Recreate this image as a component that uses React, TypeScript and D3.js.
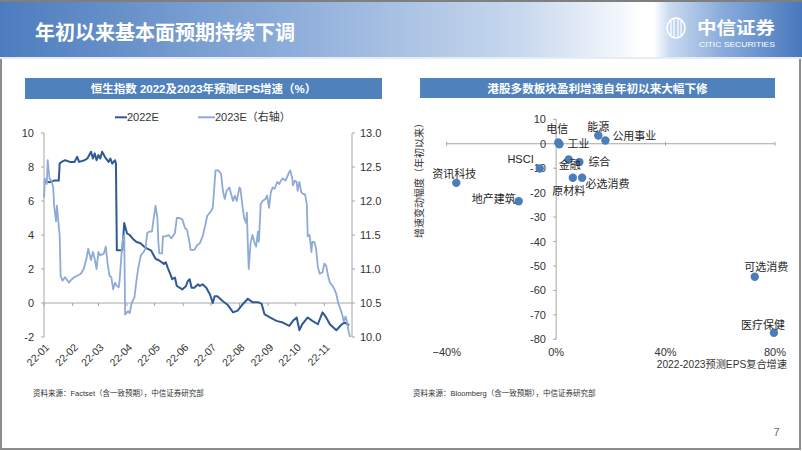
import React from "react";
import * as d3 from "d3";

const FONT = "'Liberation Sans', Arial, 'Noto Sans CJK SC', sans-serif";

const pageTitle = "年初以来基本面预期持续下调";
const leftTitle = "恒生指数 2022及2023年预测EPS增速（%）";
const rightTitle = "港股多数板块盈利增速自年初以来大幅下修";
const seriesNames = ["2022E", "2023E（右轴）"];
const leftSource = "资料来源：Factset（含一致预期），中信证券研究部";
const rightSource = "资料来源：Bloomberg（含一致预期），中信证券研究部";
const xAxisTitle = "2022-2023预测EPS复合增速";
const yAxisTitle = "增速变动幅度（年初以来）";
const pageNumber = "7";

const leftTicks = [-2, 0, 2, 4, 6, 8, 10];
const rightTicks = [10.0, 10.5, 11.0, 11.5, 12.0, 12.5, 13.0];

const dates2022E = [
  "01-01","01-07","01-12","01-17","01-18","01-20","01-24","01-29","02-03","02-06",
  "02-08","02-14","02-17","02-21","02-23","02-25","02-27","03-01","03-03","03-05",
  "03-08","03-12","03-14","03-16","03-19","03-20","03-21","03-25","03-27","03-29",
  "04-01","04-04","04-07","04-11","04-16","04-20","04-23","04-27","04-29","05-02",
  "05-06","05-11","05-13","05-15","05-18","05-20","05-23","05-25","05-28","05-31",
  "06-04","06-06","06-08","06-10","06-13","06-17","06-19","06-22","06-26","06-30",
  "07-03","07-05","07-08","07-14","07-19","07-25","07-30","08-04","08-10","08-15",
  "08-21","08-25","08-28","09-03","09-10","09-17","09-24","09-28","10-02","10-05",
  "10-08","10-14","10-19","10-25","10-30","11-03","11-07","11-14","11-20","11-23","11-28"
];
const eps2022E = [
  7.2,7.1,7.2,7.2,8.2,8.3,8.4,8.3,8.3,8.6,
  8.3,8.4,8.5,8.9,8.5,8.8,8.4,8.7,8.5,8.9,
  8.6,8.3,8.5,8.2,8.4,8.2,3.1,3.1,3.1,4.7,
  4.1,4.0,3.8,3.6,3.5,3.3,3.2,3.1,2.9,2.6,
  2.5,2.3,2.4,2.1,1.7,1.4,1.5,1.0,0.9,0.8,
  1.0,1.3,1.4,0.9,0.9,1.1,1.0,1.1,0.9,0.5,
  0.0,0.4,0.4,0.1,-0.1,-0.55,-0.45,-0.1,0.25,0.05,
  0.05,-0.05,-0.65,-0.85,-1.05,-1.15,-1.35,-1.05,-0.85,-1.6,
  -1.25,-0.85,-1.05,-1.25,-0.55,-0.85,-1.25,-1.6,-1.25,-1.15,-1.3
];

const dates2023E = [
  "01-01","01-02","01-04","01-05","01-07","01-09","01-11","01-12","01-14","01-15",
  "01-17","01-18","01-19","01-21","01-24","01-28","01-31","02-03","02-06","02-10",
  "02-13","02-16","02-18","02-21","02-23","02-25","02-27","03-01","03-03","03-07",
  "03-09","03-11","03-13","03-15","03-17","03-19","03-21","03-23","03-24","03-27",
  "03-29","03-30","04-02","04-04","04-06","04-09","04-11","04-13","04-16","04-19",
  "04-21","04-23","04-25","04-28","04-30","05-02","05-04","05-05","05-06","05-09",
  "05-10","05-13","05-16","05-19","05-23","05-25","05-28","05-31","06-03","06-05",
  "06-07","06-09","06-13","06-16","06-19","06-22","06-25","06-27","07-01","07-03",
  "07-04","07-06","07-09","07-12","07-14","07-16","07-18","07-21","07-23","07-25",
  "07-27","07-29","08-01","08-02","08-04","08-06","08-08","08-09","08-10","08-11",
  "08-13","08-15","08-17","08-19","08-21","08-22","08-24","08-26","08-29","08-31",
  "09-02","09-04","09-06","09-08","09-11","09-13","09-15","09-17","09-20","09-23",
  "09-25","09-27","09-28","09-30","10-02","10-03","10-05","10-07","10-09","10-11",
  "10-13","10-14","10-16","10-18","10-19","10-21","10-23","10-25","10-27","10-30",
  "11-01","11-03","11-05","11-07","11-10","11-12","11-14","11-16","11-18","11-21",
  "11-22","11-24","11-26","11-27","11-29"
];
const eps2023E = [
  12.05,12.33,12.25,12.6,12.33,12.3,12.2,11.93,11.7,11.93,
  11.63,11.5,10.9,10.83,10.88,10.8,10.85,10.88,10.9,10.93,
  11.0,11.15,11.3,11.13,11.25,11.15,11.0,11.25,11.2,11.23,
  11.33,11.08,10.9,10.88,10.7,10.8,10.75,10.73,10.83,11.4,
  11.5,10.33,10.38,10.35,10.5,10.58,10.8,11.0,11.2,11.25,
  11.3,11.53,11.55,11.55,11.75,11.93,11.75,11.4,11.23,11.23,
  11.48,11.48,11.5,11.45,11.53,11.75,11.75,11.73,11.6,11.58,
  11.45,11.28,11.28,11.35,11.38,11.48,11.65,11.78,11.85,11.9,
  12.08,12.45,12.45,12.4,12.15,12.03,12.15,12.2,12.1,12.0,
  12.08,12.0,12.2,12.18,11.95,11.75,11.68,11.83,11.38,11.0,
  11.38,11.5,11.4,11.33,11.55,11.4,11.95,12.0,12.03,12.08,
  11.9,12.13,12.2,12.18,12.28,12.25,12.3,12.33,12.3,12.4,
  12.45,12.35,12.23,12.3,12.28,12.15,12.28,12.13,12.1,12.1,
  11.95,11.48,11.5,11.25,11.4,11.4,11.3,11.03,10.93,10.95,
  11.08,11.05,10.9,10.8,10.75,10.7,10.63,10.5,10.43,10.3,
  10.23,10.3,10.2,10.1,10.0
];

const sectors = ["电信","工业","能源","公用事业","HSCI","综合","金融","原材料","必选消费","资讯科技","地产建筑","可选消费","医疗保健"];
const epsCagr = [0.008, 0.012, 0.154, 0.18, -0.06, 0.085, 0.046, 0.061, 0.095, -0.365, -0.137, 0.726, 0.796];
const growthChange = [0.5, -0.2, 3.4, 1.3, -10.1, -7.5, -6.4, -13.9, -13.9, -16.0, -23.5, -54.4, -77.3];

const xTicksPct = [-0.4, 0, 0.4, 0.8];
const yTicksChg = [10, 0, -10, -20, -30, -40, -50, -60, -70, -80];

// label placement (layout, not data)
const labelPlace: Record<string, { dx: number; dy: number; anchor: string }> = {
  "电信": { dx: -1, dy: -10, anchor: "middle" },
  "工业": { dx: 8, dy: 4, anchor: "start" },
  "能源": { dx: 0, dy: -4, anchor: "middle" },
  "公用事业": { dx: 7, dy: -1, anchor: "start" },
  "HSCI": { dx: -6, dy: -5, anchor: "end" },
  "综合": { dx: 9, dy: 4, anchor: "start" },
  "金融": { dx: 1, dy: 9.5, anchor: "middle" },
  "原材料": { dx: -4, dy: 17, anchor: "middle" },
  "必选消费": { dx: 3.5, dy: 10, anchor: "start" },
  "资讯科技": { dx: -2, dy: -5, anchor: "middle" },
  "地产建筑": { dx: -3, dy: 2, anchor: "end" },
  "可选消费": { dx: 11.5, dy: -6, anchor: "middle" },
  "医疗保健": { dx: -11, dy: -4, anchor: "middle" },
};

const parse = d3.timeParse("%Y-%m-%d");
const toDate = (s: string) => parse("2022-" + s) as Date;

export default function App() {
  // left chart scales
  const xT = d3.scaleTime().domain([toDate("01-01"), toDate("12-01")]).range([44, 352]);
  const yL = d3.scaleLinear().domain([-2, 10]).range([337, 133]);
  const yR = d3.scaleLinear().domain([10, 13]).range([337, 133]);
  const monthTicks = d3.timeMonth.range(toDate("01-01"), toDate("12-01"));
  const fmtMonth = d3.timeFormat("%y-%m");

  const d22 = dates2022E.map((d, i) => [toDate(d), eps2022E[i]] as [Date, number]);
  const d23 = dates2023E.map((d, i) => [toDate(d), eps2023E[i]] as [Date, number]);
  const line22 = d3.line<[Date, number]>().x((d) => xT(d[0])).y((d) => yL(d[1]));
  const line23 = d3.line<[Date, number]>().x((d) => xT(d[0])).y((d) => yR(d[1]));

  // right chart scales
  const xS = d3.scaleLinear().domain([-0.4, 0.8]).range([446.7, 775]);
  const yS = d3.scaleLinear().domain([-80, 10]).range([339.3, 119.3]);
  const pctFmt = d3.format(".0%");

  const dark = "#2f5a98";
  const light = "#8eaad6";
  const axis = "#a6a6a6";
  const bar = "#4f81bd";

  return (
    <svg width={802} height={451} style={{ position: "absolute", left: 0, top: 0, background: "#fff" }} fontFamily={FONT}>
      <defs>
        <linearGradient id="hdr" x1="0" x2="1" y1="0" y2="0">
          <stop offset="0" stopColor="#4d7cbe" />
          <stop offset="0.38" stopColor="#91b0db" />
          <stop offset="0.65" stopColor="#c8d8ee" />
          <stop offset="0.775" stopColor="#f3f7fc" />
          <stop offset="0.80" stopColor="#ffffff" />
          <stop offset="0.815" stopColor="#ffffff" />
          <stop offset="0.835" stopColor="#c9daf0" />
          <stop offset="0.9" stopColor="#8aacdb" />
          <stop offset="1" stopColor="#4878bd" />
        </linearGradient>
      </defs>
      <rect x={0} y={0} width={802} height={451} fill="#fff" />
      {/* header */}
      <rect x={0} y={0} width={802} height={58} fill="url(#hdr)" />
      <rect x={0} y={0} width={802} height={2} fill="#7f7f7f" />
      <rect x={0} y={57} width={802} height={2} fill="#e6ecf4" />
      <text x={35} y={40} fill="#fff" fontSize={20} fontWeight="bold">{pageTitle}</text>
      {/* logo */}
      <g stroke="#fff" fill="none" strokeWidth={1.6}>
        <ellipse cx={676} cy={28} rx={9} ry={10} />
        <path d="M671,21 L671,35 M674,19 L674,37 M678,19 L678,37 M681,21 L681,35" strokeWidth={1.2} />
      </g>
      <text x={697} y={34} fill="#fff" fontSize={17} fontWeight="bold" textLength={78} lengthAdjust="spacingAndGlyphs">中信证券</text>
      <text x={699} y={46.5} fill="#fff" fontSize={7.5} textLength={76} lengthAdjust="spacingAndGlyphs">CITIC SECURITIES</text>

      {/* page border */}
      <g stroke="#8c8c8c" strokeWidth={2} fill="none">
        <line x1={1} y1={59} x2={1} y2={449} />
        <line x1={800} y1={59} x2={800} y2={449} />
        <line x1={0} y1={449} x2={801} y2={449} />
      </g>

      {/* title bars */}
      <rect x={25} y={78} width={357} height={21} fill={bar} />
      <text x={203.5} y={93} textAnchor="middle" fill="#fff" fontSize={11.5} fontWeight="bold">{leftTitle}</text>
      <rect x={420} y={78} width={355} height={20} fill={bar} />
      <text x={597.5} y={92.5} textAnchor="middle" fill="#fff" fontSize={11.6} fontWeight="bold">{rightTitle}</text>

      {/* left legend */}
      <line x1={115} x2={127} y1={117.3} y2={117.3} stroke={dark} strokeWidth={2} />
      <text x={127} y={121} fontSize={11} fill="#333">{seriesNames[0]}</text>
      <line x1={198} x2={215} y1={117.3} y2={117.3} stroke={light} strokeWidth={2} />
      <text x={215} y={121} fontSize={11} fill="#333">{seriesNames[1]}</text>

      {/* left axes */}
      <line x1={44} x2={44} y1={yL(10)} y2={yL(-2)} stroke={axis} />
      {leftTicks.map((t) => (
        <g key={"lt" + t}>
          <line x1={41} x2={44} y1={yL(t)} y2={yL(t)} stroke={axis} />
          <text x={34} y={yL(t) + 4} textAnchor="end" fontSize={11} fill="#333">{t}</text>
        </g>
      ))}
      <line x1={352} x2={352} y1={yR(13)} y2={yR(10)} stroke={axis} />
      {rightTicks.map((t) => (
        <g key={"rt" + t}>
          <line x1={352} x2={355} y1={yR(t)} y2={yR(t)} stroke={axis} />
          <text x={360} y={yR(t) + 4} fontSize={11} fill="#333">{t.toFixed(1)}</text>
        </g>
      ))}
      <line x1={44} x2={352} y1={yL(0)} y2={yL(0)} stroke={axis} />
      {monthTicks.map((m) => (
        <g key={"mt" + m.getTime()}>
          <line x1={xT(m)} x2={xT(m)} y1={yL(0)} y2={yL(0) + 3} stroke={axis} />
          <text transform={`translate(${xT(m) + 6},348) rotate(-45)`} textAnchor="end" fontSize={10.5} fill="#333">{fmtMonth(m)}</text>
        </g>
      ))}
      <path d={line22(d22) || ""} fill="none" stroke={dark} strokeWidth={2} strokeLinejoin="round" />
      <path d={line23(d23) || ""} fill="none" stroke={light} strokeWidth={1.8} strokeLinejoin="round" />

      {/* right chart */}
      <line x1={xS(-0.4)} x2={xS(0.8)} y1={yS(0)} y2={yS(0)} stroke={axis} />
      {xTicksPct.map((t) => (
        <g key={"xp" + t}>
          <line x1={xS(t)} x2={xS(t)} y1={yS(0) - 2} y2={yS(0) + 2} stroke={axis} />
          <text x={xS(t)} y={356} textAnchor="middle" fontSize={11} fill="#333">{pctFmt(t)}</text>
        </g>
      ))}
      <line x1={xS(0)} x2={xS(0)} y1={yS(10)} y2={yS(-80)} stroke={axis} />
      {yTicksChg.map((t) => (
        <g key={"yc" + t}>
          <line x1={xS(0) - 3} x2={xS(0)} y1={yS(t)} y2={yS(t)} stroke={axis} />
          <text x={546} y={yS(t) + 4} textAnchor="end" fontSize={11} fill="#333">{t}</text>
        </g>
      ))}
      <text x={787} y={368} textAnchor="end" fontSize={10.2} fill="#333">{xAxisTitle}</text>
      <text transform="translate(423,178) rotate(-90)" textAnchor="middle" fontSize={10} fill="#333">{yAxisTitle}</text>
      {sectors.map((s, i) => (
        <circle key={"pt" + s} cx={xS(epsCagr[i])} cy={yS(growthChange[i])} r={4.2} fill="#4a7ebb" />
      ))}
      {sectors.map((s, i) => {
        const p = labelPlace[s];
        return (
          <text key={"lb" + s} x={xS(epsCagr[i]) + p.dx} y={yS(growthChange[i]) + p.dy} textAnchor={p.anchor as any} fontSize={11} fill="#262626">{s}</text>
        );
      })}

      {/* sources */}
      <text x={33} y={396} fontSize={7.5} fill="#333">{leftSource}</text>
      <text x={413} y={396} fontSize={7.5} fill="#333">{rightSource}</text>
      <text x={776.5} y={436} textAnchor="middle" fontSize={11} fill="#666">{pageNumber}</text>
    </svg>
  );
}
